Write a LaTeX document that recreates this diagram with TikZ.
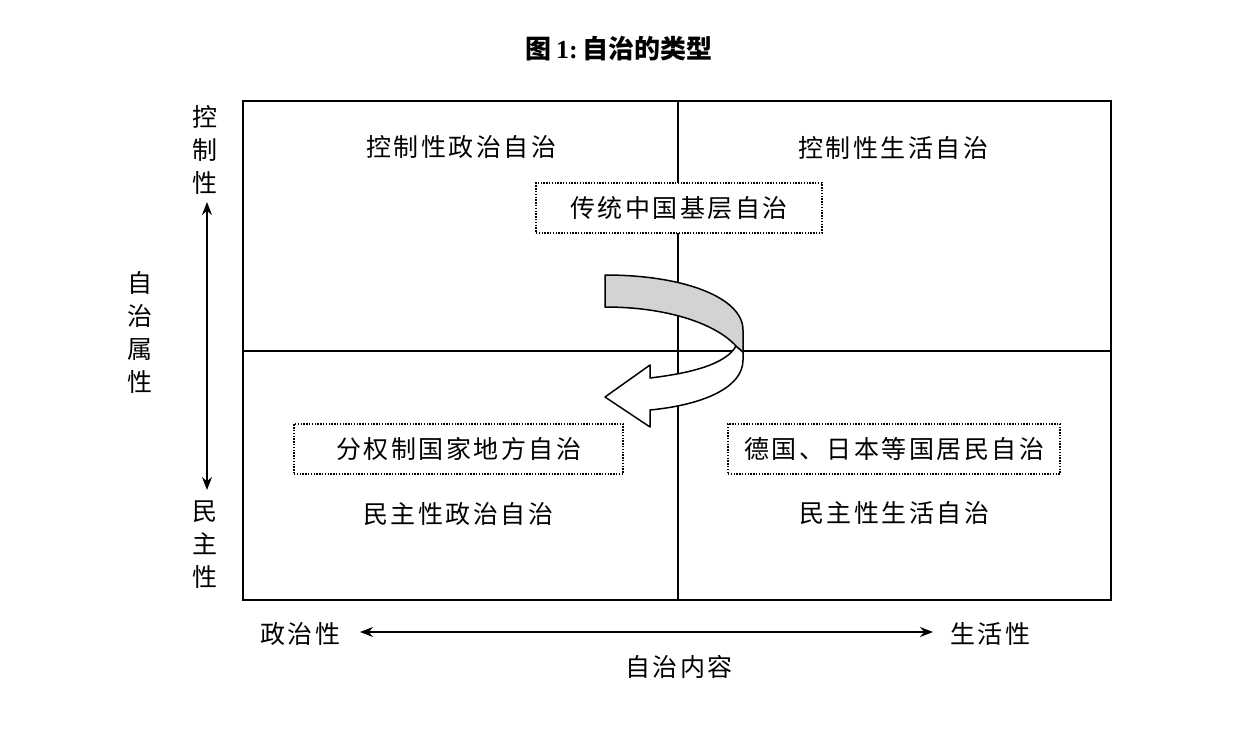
\documentclass[tikz,border=0pt]{standalone}
\usepackage{fontspec}
\setmainfont{Liberation Serif}
\newfontfamily\cjk{Noto Sans CJK SC}[LetterSpace=10]
\newfontfamily\cjkt{Noto Sans CJK SC}
\usetikzlibrary{arrows.meta}
\definecolor{ribbon}{HTML}{D1D3D4}
\tikzset{
  lbl/.style={font=\cjk\fontsize{25}{28}\selectfont, inner sep=0pt},
  vlbl/.style={font=\cjkt\fontsize{25}{33}\selectfont, align=center, inner sep=0pt},
  dotbox/.style={draw, line width=1.4pt, dash pattern=on 1.4pt off 1.4pt, minimum height=50pt, inner sep=0pt, font=\cjk\fontsize{25}{28}\selectfont},
  gridline/.style={line width=1.5pt},
  dblarrow/.style={line width=1.5pt, {Stealth[length=13pt,width=10pt]}-{Stealth[length=13pt,width=10pt]}},
  rib/.style={line width=1.5pt, line join=round},
}
\begin{document}
\begin{tikzpicture}[x=1pt,y=-1pt]
\useasboundingbox (0,0) rectangle (1258,742);

% title
\node[inner sep=0pt, font=\fontsize{26}{30}\selectfont\bfseries] (title) at (619,49)
  {{\cjkt\bfseries 图}\,1:\,{\cjkt\bfseries 自治的类型}};

% grid
\draw[gridline] (243,101) rectangle (1111,600);
\draw[gridline] (678,101) -- (678,600);
\draw[gridline] (243,351) -- (1111,351);

% quadrant labels
\node[lbl] (q1) at (461,147) {控制性政治自治};
\node[lbl] (q2) at (893,148) {控制性生活自治};
\node[lbl] (q3) at (458,514) {民主性政治自治};
\node[lbl] (q4) at (894,513) {民主性生活自治};

% curved ribbon arrow
\draw[rib, fill=white] (736,346) .. controls (726,364) and (692,373) .. (650,378)
  -- (650,365) -- (605,397) -- (650,427) -- (650,410)
  .. controls (702,405) and (743,388) .. (743,360) -- (743,352) -- cycle;
\draw[rib, fill=ribbon] (605,275) .. controls (685,275) and (743,298) .. (743,330)
  -- (743,352) -- (736,346)
  .. controls (716,324) and (668,307) .. (605,307) -- cycle;

% dotted boxes
\node[dotbox, minimum width=286pt, fill=white] (b1) at (679,208) {传统中国基层自治};
\node[dotbox, minimum width=329pt] (b2) at (458.5,449) {分权制国家地方自治};
\node[dotbox, minimum width=332pt] (b3) at (894,449) {德国、日本等国居民自治};

% vertical axis
\node[vlbl] (ctl) at (205,150) {控\\制\\性};
\node[vlbl] (dem) at (205,545) {民\\主\\性};
\node[vlbl] (attr) at (140,332) {自\\治\\属\\性};
\coordinate (vtop) at (207,202);
\coordinate (vbot) at (207,490);
\draw[dblarrow] (vtop) -- (vbot);

% horizontal axis
\node[lbl] (pol) at (300,634) {政治性};
\node[lbl] (life) at (990,634) {生活性};
\node[lbl] (cont) at (679,667) {自治内容};
\coordinate (hl) at (360,632);
\coordinate (hr) at (933,632);
\draw[dblarrow] (hl) -- (hr);
\end{tikzpicture}
\end{document}
